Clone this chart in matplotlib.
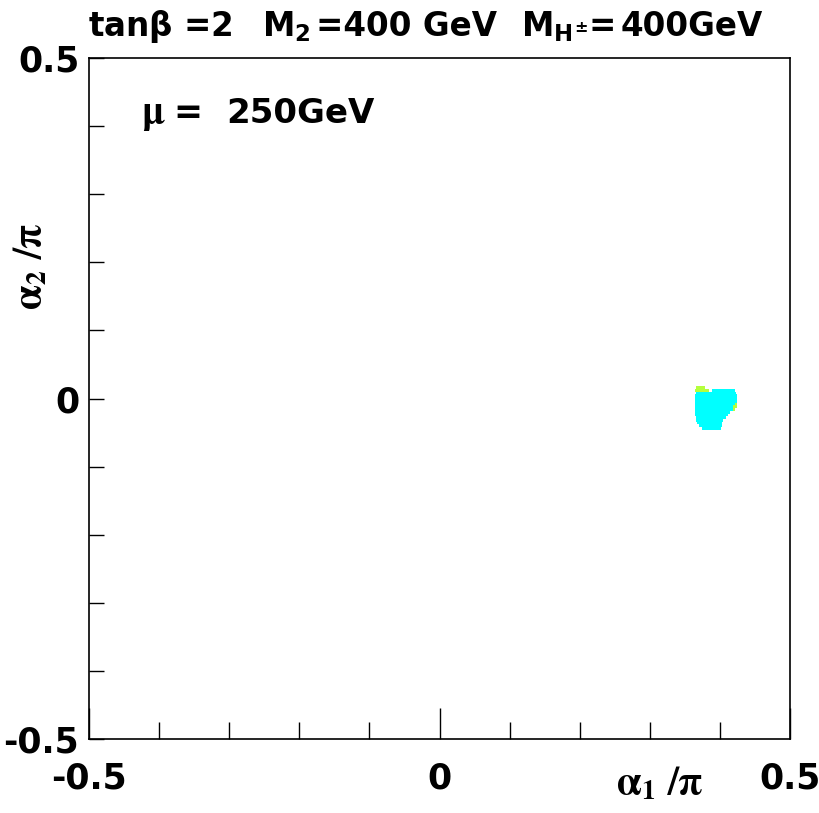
import numpy as np
import matplotlib
matplotlib.use('Agg')
import matplotlib.pyplot as plt
from matplotlib.ticker import MultipleLocator, FuncFormatter

plt.rcParams['font.family'] = ['DejaVu Sans']
plt.rcParams['font.weight'] = 'bold'
plt.rcParams['mathtext.fontset'] = 'custom'
plt.rcParams['mathtext.rm'] = 'DejaVu Sans:bold'
plt.rcParams['mathtext.it'] = 'DejaVu Sans:bold'
plt.rcParams['mathtext.bf'] = 'DejaVu Sans:bold'

# allowed region, one row per y bin: (alpha2/pi, alpha1/pi min, alpha1/pi max)
cyan_y = [0.012, 0.008, 0.004, 0.000, -0.004, -0.008, -0.012, -0.016, -0.020,
          -0.024, -0.028, -0.032, -0.036, -0.040, -0.044]
cyan_xmin = [0.389, 0.366, 0.364, 0.364, 0.364, 0.364, 0.364, 0.364, 0.365,
             0.365, 0.366, 0.366, 0.367, 0.370, 0.375]
cyan_xmax = [0.421, 0.423, 0.424, 0.424, 0.424, 0.421, 0.419, 0.418, 0.415,
             0.412, 0.408, 0.405, 0.403, 0.403, 0.402]

green_y = [0.016, 0.012, -0.008, -0.012, -0.016]
green_xmin = [0.366, 0.365, 0.419, 0.418, 0.417]
green_xmax = [0.378, 0.385, 0.424, 0.424, 0.422]

row_h = 0.0042
W, H = 820, 813


def fx(px):
    return px / W


def fy(py):
    return 1 - py / H


fig = plt.figure(figsize=(8.2, 8.13), dpi=100)
ax = fig.add_axes([0.1085, 0.091, 0.855, 0.8376])

ax.barh(green_y, np.array(green_xmax) - np.array(green_xmin), left=green_xmin,
        height=row_h, color='#b4ff3c', linewidth=0)
ax.barh(cyan_y, np.array(cyan_xmax) - np.array(cyan_xmin), left=cyan_xmin,
        height=row_h, color='#00ffff', linewidth=0)

ax.set_xlim(-0.5, 0.5)
ax.set_ylim(-0.5, 0.5)

fmt = FuncFormatter(lambda v, p: '0' if abs(v) < 1e-9 else '%.1f' % v)
ax.xaxis.set_major_locator(MultipleLocator(0.5))
ax.xaxis.set_minor_locator(MultipleLocator(0.1))
ax.yaxis.set_major_locator(MultipleLocator(0.5))
ax.yaxis.set_minor_locator(MultipleLocator(0.1))
ax.xaxis.set_major_formatter(fmt)
ax.yaxis.set_major_formatter(fmt)

ax.tick_params(axis='x', which='major', direction='in', length=22, width=1,
               labelsize=25, pad=16)
ax.tick_params(axis='x', which='minor', direction='in', length=12, width=1)
ax.tick_params(axis='y', which='both', direction='in', length=11, width=1,
               labelsize=25, pad=7)
for s in ax.spines.values():
    s.set_linewidth(1.2)

# axis titles (ROOT style, right aligned)
fig.text(fx(704), fy(795), r'$\mathrm{\alpha}_{1}\ /\mathrm{\pi}$', fontsize=28,
         ha='right', va='baseline', math_fontfamily='stix')
fig.text(fx(12), fy(266), r'$\mathrm{\alpha}_{2}\ /\mathrm{\pi}$', fontsize=28,
         ha='left', va='center', rotation=90, math_fontfamily='stix')

# header
fs = 23.5
fig.text(fx(88), fy(36), r'tan$\beta$ =2', fontsize=fs, ha='left', va='baseline')
fig.text(fx(262), fy(36), r'M$_{2}$', fontsize=fs, ha='left', va='baseline')
fig.text(fx(316), fy(36), '=400 GeV', fontsize=fs, ha='left', va='baseline')
fig.text(fx(521), fy(36), r'M$_{H^{\pm}}$', fontsize=fs, ha='left', va='baseline')
fig.text(fx(589), fy(36), '=', fontsize=fs, ha='left', va='baseline')
fig.text(fx(621), fy(36), '400GeV', fontsize=fs, ha='left', va='baseline')

# mu label
fig.text(fx(141), fy(123), r'$\mathrm{\mu}$', fontsize=28, ha='left', va='baseline',
         math_fontfamily='stix')
fig.text(fx(173), fy(123), '=', fontsize=25, ha='left', va='baseline')
fig.text(fx(226), fy(123), '250GeV', fontsize=24.5, ha='left', va='baseline')

fig.savefig('out.png', dpi=100)
